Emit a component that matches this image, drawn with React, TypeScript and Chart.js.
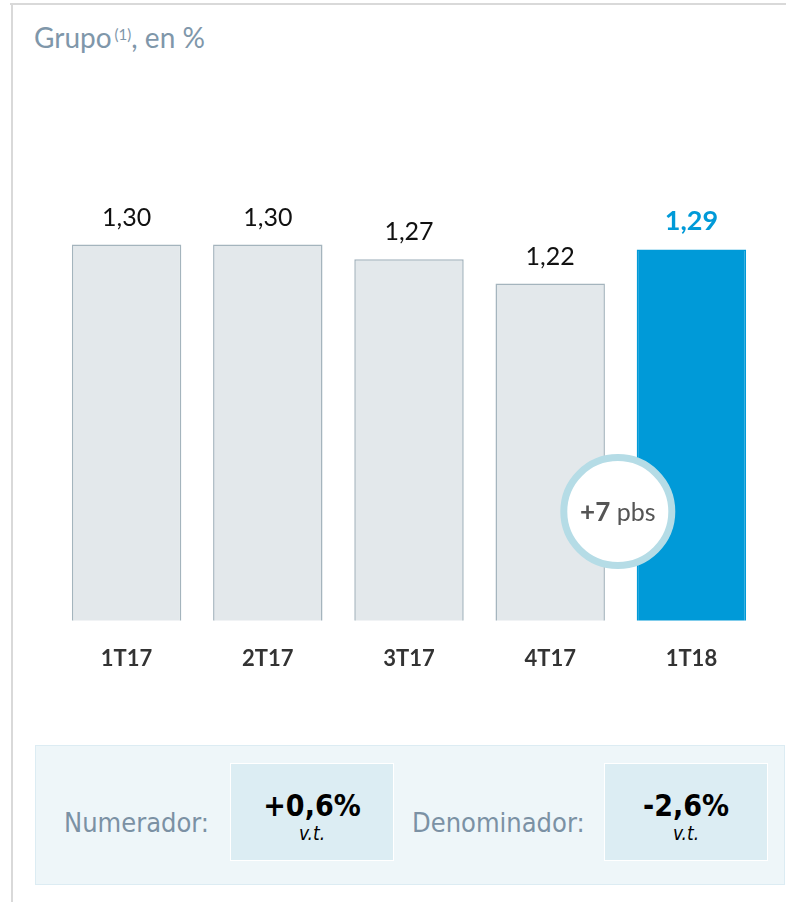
import React, { useEffect, useRef } from "react";
import { Chart, registerables } from "chart.js";

Chart.register(...registerables);

const categories = ["1T17", "2T17", "3T17", "4T17", "1T18"];
const values = [1.3, 1.3, 1.27, 1.22, 1.29];
const valueLabels = ["1,30", "1,30", "1,27", "1,22", "1,29"];
const highlightIndex = 4;
const deltaBold = "+7";
const deltaUnit = " pbs";
const title = "Grupo";
const titleNote = "(1)";
const titleTail = ", en %";
const boxLabels = ["Numerador:", "Denominador:"];
const boxValues = ["+0,6%", "-2,6%"];
const boxSub = ["v.t.", "v.t."];

const GRAY_FILL = "#e3e8eb";
const GRAY_BORDER = "#a4b4bd";
const BLUE = "#009ad8";
const FONT = "Lato, 'Open Sans', sans-serif";
const NARROW = "'Liberation Sans Narrow', 'DejaVu Sans Condensed', sans-serif";

const labelPlugin = {
  id: "valueLabels",
  afterDatasetsDraw(chart: any) {
    const ctx = chart.ctx;
    const meta = chart.getDatasetMeta(0);
    ctx.save();
    meta.data.forEach((bar: any, i: number) => {
      const hi = i === highlightIndex;
      ctx.font = `${hi ? "bold " : ""}${hi ? 27 : 25}px ${FONT}`;
      ctx.fillStyle = hi ? BLUE : "#111";
      ctx.textAlign = "center";
      ctx.textBaseline = "alphabetic";
      ctx.fillText(valueLabels[i], bar.x, bar.y - 19);
    });
    // delta bubble between last two bars
    const a = meta.data[highlightIndex - 1];
    const b = meta.data[highlightIndex];
    const cx = (a.x + a.width / 2 + b.x - b.width / 2) / 2 - 3;
    const cy = chart.chartArea.bottom - 109;
    ctx.beginPath();
    ctx.arc(cx, cy, 54, 0, Math.PI * 2);
    ctx.fillStyle = "#fff";
    ctx.fill();
    ctx.lineWidth = 7;
    ctx.strokeStyle = "#b5dce6";
    ctx.stroke();
    ctx.textBaseline = "middle";
    ctx.font = `bold 26px ${FONT}`;
    const w1 = ctx.measureText(deltaBold).width;
    ctx.font = `25px ${FONT}`;
    const w2 = ctx.measureText(deltaUnit).width;
    const start = cx - (w1 + w2) / 2;
    ctx.textAlign = "left";
    ctx.fillStyle = "#555";
    ctx.font = `bold 26px ${FONT}`;
    ctx.fillText(deltaBold, start, cy + 1);
    ctx.font = `25px ${FONT}`;
    ctx.fillText(deltaUnit, start + w1, cy + 1);
    ctx.restore();
  },
};

export default function App() {
  const ref = useRef<HTMLCanvasElement>(null);
  useEffect(() => {
    if (!ref.current) return;
    const chart = new Chart(ref.current, {
      type: "bar",
      data: {
        labels: categories,
        datasets: [
          {
            data: values,
            backgroundColor: values.map((_, i) => (i === highlightIndex ? BLUE : GRAY_FILL)),
            borderColor: values.map((_, i) => (i === highlightIndex ? BLUE : GRAY_BORDER)),
            borderWidth: 1.5,
            barPercentage: 0.775,
            categoryPercentage: 1,
          },
        ],
      },
      options: {
        responsive: false,
        animation: false,
        events: [],
        layout: { padding: { left: 56, right: 24, top: 98, bottom: 3 } },
        plugins: { legend: { display: false }, tooltip: { enabled: false } },
        scales: {
          y: { display: false, min: 0.53, max: 1.6 },
          x: {
            grid: { display: false, drawTicks: false },
            border: { display: false },
            ticks: {
              padding: 25,
              color: "#333",
              font: { family: FONT, size: 22, weight: "bold" },
            },
          },
        },
      },
      plugins: [labelPlugin],
    });
    return () => chart.destroy();
  }, []);

  return (
    <div style={{ position: "absolute", left: 0, top: 0, width: 786, height: 902, background: "#fff", overflow: "hidden" }}>
      <div style={{ position: "absolute", left: 10, top: 3, width: 776, height: 2, background: "#d9d9d9" }} />
      <div style={{ position: "absolute", left: 11, top: 3, width: 2, height: 899, background: "#d9d9d9" }} />
      <div
        style={{
          position: "absolute",
          left: 34,
          top: 20,
          fontFamily: FONT,
          fontSize: 28,
          color: "#7f97aa",
          whiteSpace: "nowrap",
          lineHeight: "34px",
        }}
      >
        {title}
        <sup style={{ fontSize: 15, verticalAlign: "top", position: "relative", top: -3, marginLeft: 3 }}>{titleNote}</sup>
        {titleTail}
      </div>
      <canvas ref={ref} width={786} height={700} style={{ position: "absolute", left: 0, top: 0, width: 786, height: 700 }} />
      <div
        style={{
          position: "absolute",
          left: 35,
          top: 745,
          width: 750,
          height: 140,
          boxSizing: "border-box",
          background: "#eef6f9",
          border: "1.5px solid #dcecf3",
        }}
      />
      {boxLabels.map((lab, i) => (
        <React.Fragment key={lab}>
          <div
            style={{
              position: "absolute",
              left: i === 0 ? 64 : 412,
              top: 806,
              fontFamily: NARROW,
              fontSize: 27,
              color: "#7b91a4",
              whiteSpace: "nowrap",
              lineHeight: "34px",
            }}
          >
            {lab}
          </div>
          <div
            style={{
              position: "absolute",
              left: i === 0 ? 230 : 604,
              top: 763,
              width: 164,
              height: 98,
              boxSizing: "border-box",
              background: "#dcedf3",
              border: "1.5px solid #fff",
              textAlign: "center",
              color: "#000",
            }}
          >
            <div style={{ fontFamily: NARROW, fontWeight: "bold", fontSize: 30, lineHeight: "36px", marginTop: 24 }}>{boxValues[i]}</div>
            <div style={{ fontFamily: NARROW, fontStyle: "italic", fontSize: 19, lineHeight: "22px", marginTop: -2 }}>{boxSub[i]}</div>
          </div>
        </React.Fragment>
      ))}
    </div>
  );
}
